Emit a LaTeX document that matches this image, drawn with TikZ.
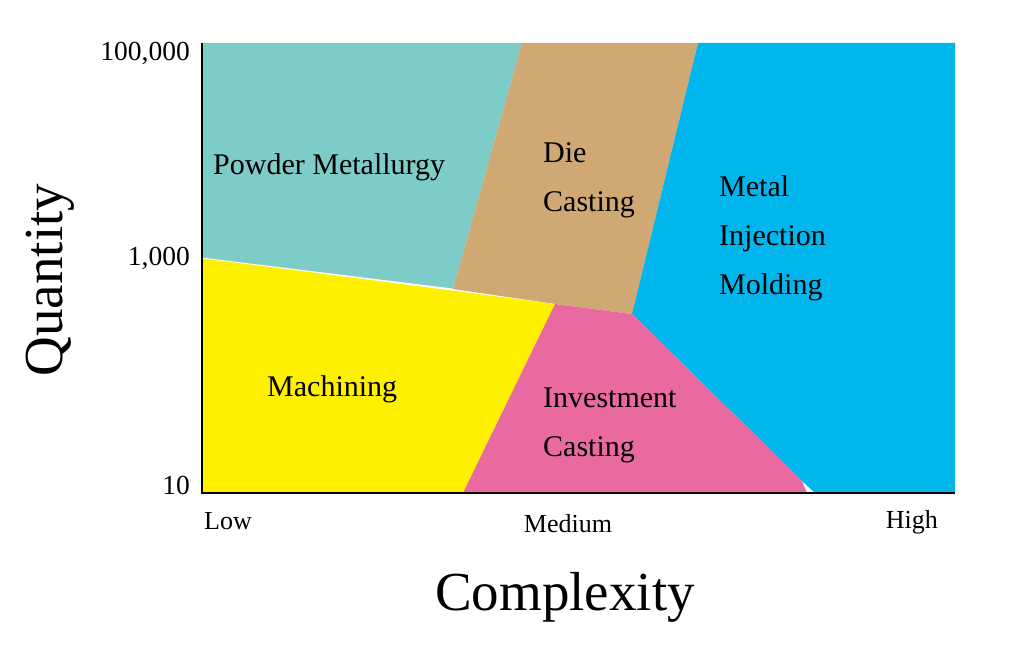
\documentclass[tikz,border=0pt]{standalone}
\usepackage{fontspec}
\setmainfont{Liberation Serif}
\definecolor{pmteal}{RGB}{126,204,200}
\definecolor{dctan}{RGB}{207,168,115}
\definecolor{mimblue}{RGB}{0,182,237}
\definecolor{machyellow}{RGB}{255,240,0}
\definecolor{icpink}{RGB}{233,106,160}
\tikzset{
  region/.style={draw=none},
  lbl/.style={anchor=west, align=left, inner sep=0pt, font=\fontsize{30}{49}\selectfont},
  tick/.style={anchor=east, inner sep=0pt, font=\fontsize{27.5}{30}\selectfont},
  xtick/.style={inner sep=0pt, font=\fontsize{26}{30}\selectfont},
  axistitle/.style={inner sep=0pt, font=\fontsize{55}{60}\selectfont},
  axisline/.style={black, line width=1.4pt}
}
\begin{document}
\begin{tikzpicture}[x=1pt,y=-1pt]
\useasboundingbox[fill=white] (0,0) rectangle (1010,650);
% regions
\fill[pmteal, region] (202,43) -- (522,43) -- (453,289) -- (202,258) -- cycle;
\fill[dctan, region] (522,43) -- (698,43) -- (632,314) -- (555,304) -- (453,289) -- cycle;
\fill[mimblue, region] (698,43) -- (955,43) -- (955,493) -- (815,493) -- (802,481) -- (632,314) -- cycle;
\fill[machyellow, region] (202,258) -- (555,304) -- (463,493) -- (202,493) -- cycle;
\fill[icpink, region] (555,304) -- (632,314) -- (802,481) -- (807,493) -- (463,493) -- cycle;
\draw[white, line width=0.8pt] (202,258) -- (453,289);
% axes
\coordinate (o) at (202,493);
\coordinate (ytop) at (202,43);
\coordinate (xend) at (955,493);
\draw[axisline] (ytop) -- (o) -- (xend);
% region labels
\node[lbl] (pm) at (213,167) {Powder Metallurgy};
\node[lbl] (dc) at (543,180) {Die\\Casting};
\node[lbl] (mim) at (719,238) {Metal\\Injection\\Molding};
\node[lbl] (mach) at (267,389) {Machining};
\node[lbl] (ic) at (543,425) {Investment\\Casting};
% y ticks
\node[tick] (t5) at (190,53) {100,000};
\node[tick] (t3) at (190,258) {1,000};
\node[tick] (t1) at (190,485) {10};
% x ticks
\node[xtick, anchor=west] (low) at (204,521) {Low};
\node[xtick] (med) at (568,524) {Medium};
\node[xtick, anchor=east] (high) at (938,522) {High};
% titles
\node[axistitle, rotate=90] (qty) at (50,280) {Quantity};
\node[axistitle] (cx) at (565,597) {Complexity};
\end{tikzpicture}
\end{document}
